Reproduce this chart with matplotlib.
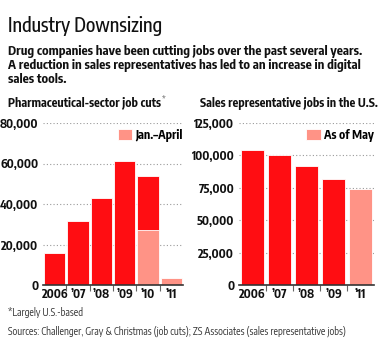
import matplotlib
matplotlib.use("Agg")
import matplotlib.pyplot as plt
from matplotlib import font_manager
from matplotlib.ticker import FuncFormatter, FixedLocator

# data
cut_years = ["2006", "\u201907", "\u201908", "\u201909", "\u201910", "\u201911"]
cuts_full = [15800, 31700, 43000, 61000, 53600, 0]
cuts_jan_apr = [0, 0, 0, 0, 27000, 3300]

rep_years = ["2006", "\u201907", "\u201908", "\u201909", "\u201911"]
reps_full = [104000, 100000, 92000, 82000, 0]
reps_may = [0, 0, 0, 0, 74000]

RED = "#ff0d12"
PINK = "#ff9386"
GRID = "#9a9a9a"
DARK = "#333333"

installed = {f.name for f in font_manager.fontManager.ttflist}
FONT = next(n for n in ["Encode Sans Condensed", "Source Sans 3", "DejaVu Sans"]
            if n in installed)
plt.rcParams["font.family"] = [FONT, "DejaVu Sans"]

W, H = 382, 346
fig = plt.figure(figsize=(W / 100, H / 100), dpi=100)
fig.patch.set_facecolor("white")


def fx(px):
    return px / W


def fy(py):
    return 1 - py / H


fig.text(fx(8), fy(32), "Industry Downsizing", fontsize=13.8, color="#111111",
         fontweight=500, va="baseline")
sub = ["Drug companies have been cutting jobs over the past several years.",
       "A reduction in sales representatives has led to an increase in digital",
       "sales tools."]
for i, line in enumerate(sub):
    fig.text(fx(8), fy(55 + i * 14), line, fontsize=9.2, fontweight="bold",
             color="#111111", va="baseline")

fig.text(fx(8), fy(106.5), "Pharmaceutical-sector job cuts", fontsize=8.7,
         fontweight="bold", color="#111111", va="baseline")
fig.text(fx(162), fy(101), "*", fontsize=6, color="#555555", va="baseline")
fig.text(fx(200), fy(106.5), "Sales representative jobs in the U.S.", fontsize=8.7,
         fontweight="bold", color="#111111", va="baseline")

fig.text(fx(8), fy(316), "*Largely U.S.-based", fontsize=7.2, color="#333333",
         va="baseline")
fig.text(fx(8), fy(335),
         "Sources: Challenger, Gray & Christmas (job cuts); ZS Associates (sales representative jobs)",
         fontsize=7.2, color="#333333", va="baseline")


def style(ax, top, step, n):
    ax.set_ylim(0, top)
    ax.set_xlim(-0.5, n - 0.5)
    ax.yaxis.set_major_locator(FixedLocator(list(range(0, top + 1, step))))
    ax.yaxis.set_major_formatter(FuncFormatter(lambda v, p: f"{int(v):,}"))
    for s in ["left", "right", "top"]:
        ax.spines[s].set_visible(False)
    ax.spines["bottom"].set_color(DARK)
    ax.spines["bottom"].set_linewidth(1.2)
    ax.set_axisbelow(True)
    ax.grid(axis="y", linestyle=(0, (1, 2)), color=GRID, linewidth=0.8)
    ax.tick_params(axis="y", length=0, pad=3.5, labelsize=8.7)
    ax.tick_params(axis="x", which="major", length=0, pad=2, labelsize=8.7)
    ax.tick_params(axis="x", which="minor", length=4, width=0.8, color="#666666")
    ax.set_xticks([i + 0.5 for i in range(n - 1)], minor=True)
    for lab in ax.get_yticklabels() + ax.get_xticklabels():
        lab.set_fontweight("bold")
        lab.set_color("#111111")


def add_legend(ax, handle):
    leg = ax.legend(handles=[handle], loc="upper right", bbox_to_anchor=(1.0, 0.965),
                    frameon=False, fontsize=8.7, handlelength=1.2, handleheight=1.0,
                    handletextpad=0.3, borderaxespad=0, borderpad=0)
    for t in leg.get_texts():
        t.set_fontweight("bold")


# left chart
ax1 = fig.add_axes([fx(43), 1 - 285 / H, fx(140), 162 / H])
x1 = range(len(cut_years))
ax1.bar(x1, cuts_full, width=0.92, color=RED, edgecolor="white", linewidth=0.6)
b1 = ax1.bar(x1, cuts_jan_apr, width=0.92, color=PINK, edgecolor="white",
             linewidth=0.6, label="Jan.\u2013April")
ax1.set_xticks(list(x1))
ax1.set_xticklabels(cut_years)
style(ax1, 80000, 20000, len(cut_years))
add_legend(ax1, b1)

# right chart
ax2 = fig.add_axes([fx(239), 1 - 285 / H, fx(135), 162 / H])
x2 = range(len(rep_years))
ax2.bar(x2, reps_full, width=0.88, color=RED, edgecolor="white", linewidth=0.6)
b2 = ax2.bar(x2, reps_may, width=0.88, color=PINK, edgecolor="white",
             linewidth=0.6, label="As of May")
ax2.set_xticks(list(x2))
ax2.set_xticklabels(rep_years)
style(ax2, 125000, 25000, len(rep_years))
add_legend(ax2, b2)

fig.savefig("out.png", dpi=100, facecolor="white")
